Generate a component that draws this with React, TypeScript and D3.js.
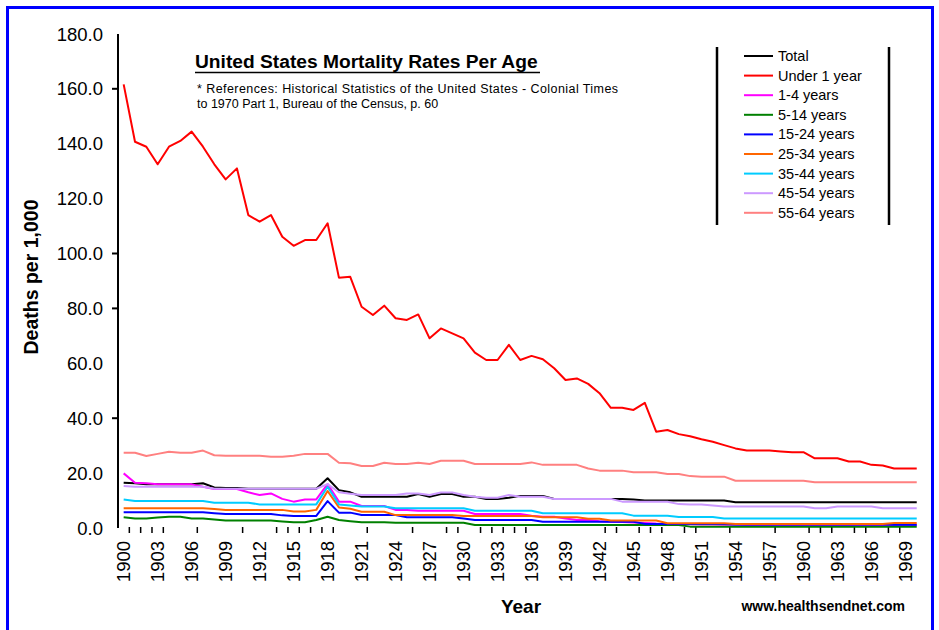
import React from "react";
import * as d3 from "d3";

const years = [1900,1901,1902,1903,1904,1905,1906,1907,1908,1909,1910,1911,1912,1913,1914,1915,1916,1917,1918,1919,1920,1921,1922,1923,1924,1925,1926,1927,1928,1929,1930,1931,1932,1933,1934,1935,1936,1937,1938,1939,1940,1941,1942,1943,1944,1945,1946,1947,1948,1949,1950,1951,1952,1953,1954,1955,1956,1957,1958,1959,1960,1961,1962,1963,1964,1965,1966,1967,1968,1969,1970];

const total = [16.5,16.3,15.9,15.9,15.9,15.9,15.9,16.3,14.8,14.6,14.6,14.3,14.3,14.3,14.3,14.3,14.3,14.3,18.1,13.8,13.0,11.4,11.4,11.4,11.4,11.4,12.4,11.4,12.4,12.4,11.4,11.4,10.6,10.6,11.0,11.7,11.7,11.7,10.6,10.6,10.6,10.6,10.6,10.6,10.6,10.4,10.0,10.0,10.0,10.0,10.0,10.0,10.0,10.0,9.4,9.4,9.4,9.4,9.4,9.4,9.4,9.4,9.4,9.4,9.4,9.4,9.4,9.4,9.4,9.4,9.4];
const under1 = [161.6,140.7,138.9,132.5,138.9,141.0,144.4,138.9,132.5,127.0,131.0,114.0,111.6,114.0,106.1,102.8,104.9,104.9,111.0,91.2,91.5,80.6,77.6,81.0,76.4,75.8,77.8,69.1,72.7,70.9,69.1,63.9,61.2,61.2,66.7,61.2,62.7,61.5,58.2,53.9,54.5,52.5,49.1,43.8,43.8,43.0,45.6,35.1,35.7,34.2,33.4,32.3,31.4,30.2,29.0,28.2,28.2,28.2,27.9,27.6,27.6,25.4,25.4,25.4,24.2,24.2,23.0,22.8,21.7,21.7,21.7];
const age1to4 = [19.9,16.5,16.3,15.9,15.9,15.9,15.9,15.0,14.2,14.2,14.2,13.0,12.0,12.6,10.6,9.6,10.4,10.4,16.0,9.6,9.6,8.0,8.0,8.0,6.6,6.6,6.3,6.3,6.3,6.3,6.3,5.1,5.1,5.1,5.1,5.1,4.5,4.1,4.1,3.5,2.9,2.9,2.5,2.3,2.2,2.0,1.8,1.6,1.5,1.4,1.4,1.3,1.3,1.2,1.2,1.1,1.0,1.0,1.0,1.0,1.0,1.0,1.0,1.0,1.0,1.0,1.0,1.0,1.0,1.0,1.0];
const age5to14 = [3.9,3.5,3.5,3.8,4.1,4.1,3.5,3.5,3.1,2.7,2.7,2.7,2.7,2.7,2.4,2.1,2.1,2.9,4.1,2.9,2.5,2.1,2.1,2.1,1.95,1.95,1.95,1.95,1.95,1.95,1.95,1.1,1.1,1.1,1.1,1.1,1.1,1.1,1.1,1.1,1.1,1.1,1.1,1.1,1.1,1.1,1.1,1.1,1.1,1.1,0.5,0.5,0.5,0.5,0.5,0.5,0.5,0.5,0.5,0.5,0.5,0.5,0.5,0.5,0.5,0.5,0.5,0.5,0.5,0.5,0.5];
const age15to24 = [5.7,5.7,5.7,5.7,5.7,5.7,5.7,5.7,5.4,5.1,5.1,5.1,5.1,5.1,4.6,4.4,4.4,4.4,9.8,5.6,5.6,4.7,4.7,4.7,4.7,3.9,3.9,3.9,3.9,3.9,3.5,2.9,2.9,2.9,2.9,2.9,2.9,2.3,2.3,2.3,2.3,2.3,2.3,2.3,2.3,2.3,1.5,1.5,1.5,1.5,1.5,1.5,1.5,1.5,1.3,1.3,1.3,1.3,1.3,1.3,1.3,1.3,1.3,1.3,1.3,1.3,1.3,1.3,1.2,1.2,1.2];
const age25to34 = [7.2,7.2,7.2,7.2,7.2,7.2,7.2,7.2,6.9,6.6,6.6,6.6,6.6,6.6,6.6,6.0,6.0,6.6,13.5,7.5,7.0,5.9,5.9,5.9,4.7,4.7,4.7,4.7,4.7,4.7,4.4,4.4,4.4,4.4,4.4,4.4,4.4,3.9,3.9,3.9,3.9,3.4,3.4,2.7,2.7,2.7,2.7,2.7,1.7,1.7,1.7,1.7,1.7,1.7,1.5,1.5,1.5,1.5,1.5,1.5,1.5,1.5,1.5,1.5,1.5,1.5,1.5,1.5,1.8,1.8,1.8];
const age35to44 = [10.4,9.8,9.8,9.8,9.8,9.8,9.8,9.8,9.2,9.2,9.2,9.2,8.6,8.6,8.6,8.6,8.6,8.6,15.0,8.6,8.2,7.8,7.8,7.8,7.2,7.2,7.2,7.2,7.2,7.2,7.2,6.3,6.3,6.3,6.3,6.3,6.3,5.4,5.4,5.4,5.4,5.4,5.4,5.4,5.4,4.5,4.5,4.5,4.5,4.0,4.0,4.0,4.0,3.5,3.5,3.5,3.5,3.5,3.5,3.5,3.5,3.5,3.5,3.5,3.5,3.5,3.5,3.5,3.5,3.5,3.5];
const age45to54 = [15.3,15.0,15.0,15.0,15.0,15.0,15.0,15.0,14.3,14.3,14.3,14.3,14.3,14.3,14.3,14.3,14.3,14.3,16.0,13.0,12.5,12.0,12.0,12.0,12.0,12.6,12.6,12.0,12.9,12.9,12.0,11.4,11.0,11.0,12.0,11.4,11.4,11.4,10.6,10.6,10.6,10.6,10.6,10.6,9.6,9.6,9.6,9.6,9.6,8.7,8.6,8.6,8.2,7.8,7.8,7.8,7.8,7.8,7.8,7.8,7.8,7.2,7.2,7.8,7.8,7.8,7.8,7.2,7.2,7.2,7.2];
const age55to64 = [27.4,27.4,26.2,27.0,27.8,27.4,27.4,28.2,26.5,26.3,26.3,26.3,26.3,26.0,26.0,26.3,27.0,27.0,27.0,23.8,23.6,22.6,22.6,23.8,23.3,23.3,23.8,23.3,24.5,24.5,24.5,23.3,23.3,23.3,23.3,23.3,23.9,23.0,23.0,23.0,23.0,21.7,20.9,20.9,20.9,20.3,20.3,20.3,19.7,19.7,18.9,18.7,18.7,18.7,17.2,17.2,17.2,17.2,17.2,17.2,17.2,16.7,16.7,16.7,16.7,16.7,16.7,16.7,16.7,16.7,16.7];

const seriesNames = ["Total","Under 1 year","1-4 years","5-14 years","15-24 years","25-34 years","35-44 years","45-54 years","55-64 years"];
const seriesColors = ["#000000","#FF0000","#FF00FF","#008000","#0000FF","#FF6600","#00CCFF","#CC99FF","#FF8080"];
const seriesValues = [total, under1, age1to4, age5to14, age15to24, age25to34, age35to44, age45to54, age55to64];

const yTickValues = [0,20,40,60,80,100,120,140,160,180];
const yTickMarks = [40,80,100,160];
const xLabelYears = [1900,1903,1906,1909,1912,1915,1918,1921,1924,1927,1930,1933,1936,1939,1942,1945,1948,1951,1954,1957,1960,1963,1966,1969];
const xTickYears = [1901,1902,1903,1904,1907,1911,1914,1915,1916,1917,1918,1919,1922,1926,1929,1930,1932,1933,1934,1935,1936,1943,1944,1946,1947,1948,1950,1951,1954,1958,1961,1962,1963,1965,1966,1968,1969];

const FONT = "'Liberation Sans', Arial, sans-serif";

export default function App() {
  const W = 939, H = 630;
  const left = 118, right = 922.4, top = 33.9, bottom = 528;
  const x = d3.scaleBand<number>().domain(years).range([left, right]).padding(0);
  const bw = x.bandwidth();
  const cx = (yr: number) => (x(yr) as number) + bw / 2;
  const y = d3.scaleLinear().domain([0, 180]).range([bottom, top]);
  const line = d3.line<number>().x((_, i) => cx(years[i])).y((v) => y(v));

  const legX = 717, legY0 = 56, legStep = 19.6;

  return (
    <svg width={W} height={H} style={{ position: "absolute", left: 0, top: 0, background: "#fff" }} fontFamily={FONT}>
      <rect x={0} y={0} width={W} height={H} fill="#fff" />
      <rect x={7.5} y={7.5} width={925} height={660} fill="none" stroke="#0000FF" strokeWidth={3} />

      {/* y axis */}
      <line x1={left} x2={left} y1={y(180)} y2={bottom} stroke="#000" strokeWidth={2} />
      {yTickMarks.map((v) => (
        <line key={"ym" + v} x1={left - 6} x2={left} y1={y(v)} y2={y(v)} stroke="#000" strokeWidth={2} />
      ))}
      {yTickValues.map((v) => (
        <text key={"yl" + v} x={103} y={y(v)} dy="0.36em" textAnchor="end" fontSize={18.5} fill="#000">
          {v.toFixed(1)}
        </text>
      ))}
      <text transform={`translate(38,277) rotate(-90)`} textAnchor="middle" fontSize={19.5} fontWeight="bold" fill="#000">
        Deaths per 1,000
      </text>

      {/* x ticks and labels */}
      {xTickYears.map((yr) => (
        <line key={"xt" + yr} x1={x(yr) as number} x2={x(yr) as number} y1={527} y2={533} stroke="#000" strokeWidth={1.5} />
      ))}
      {xLabelYears.map((yr) => (
        <text key={"xl" + yr} transform={`translate(${cx(yr)},541) rotate(-90)`} textAnchor="end" dy="0.36em" fontSize={18.5} fill="#000">
          {yr}
        </text>
      ))}
      <text x={521} y={613} textAnchor="middle" fontSize={19} fontWeight="bold" fill="#000">Year</text>
      <text x={905} y={611} textAnchor="end" fontSize={14} fontWeight="bold" fill="#000">www.healthsendnet.com</text>

      {/* series */}
      {seriesValues.map((vals, si) => (
        <path key={"s" + si} d={line(vals) || ""} fill="none" stroke={seriesColors[si]} strokeWidth={2} strokeLinejoin="round" />
      ))}

      {/* title */}
      <text x={195} y={68} fontSize={19.2} fontWeight="bold" fill="#000">United States Mortality Rates Per Age</text>
      <line x1={195} x2={540} y1={72.5} y2={72.5} stroke="#000" strokeWidth={1.5} />
      <text x={197} y={93} fontSize={12.5} fill="#000" textLength={421} lengthAdjust="spacing">* References: Historical Statistics of the United States - Colonial Times</text>
      <text x={197} y={107.5} fontSize={12.5} fill="#000">to 1970 Part 1, Bureau of the Census, p. 60</text>

      {/* legend */}
      <line x1={legX} x2={legX} y1={47} y2={225} stroke="#000" strokeWidth={2.5} />
      <line x1={889} x2={889} y1={47} y2={225} stroke="#000" strokeWidth={2.5} />
      {seriesNames.map((n, i) => (
        <g key={"lg" + i}>
          <line x1={744} x2={773} y1={legY0 + i * legStep} y2={legY0 + i * legStep} stroke={seriesColors[i]} strokeWidth={2} />
          <text x={778} y={legY0 + i * legStep} dy="0.35em" fontSize={14.5} fill="#000">{n}</text>
        </g>
      ))}
    </svg>
  );
}
